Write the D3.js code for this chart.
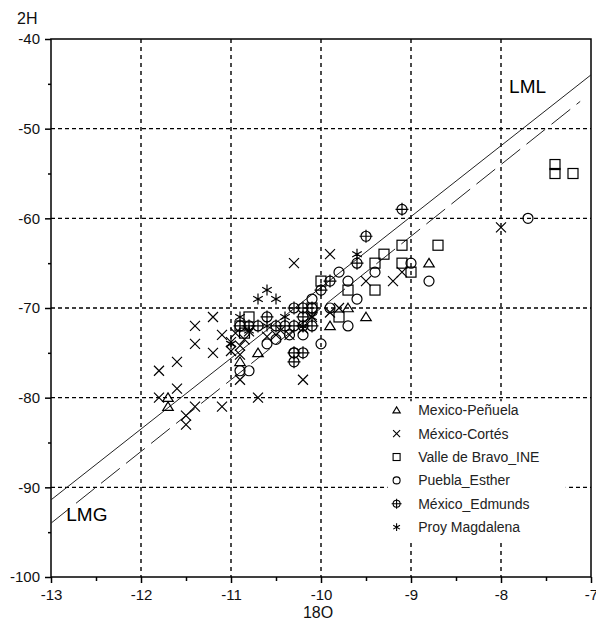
<!DOCTYPE html>
<html>
<head>
<meta charset="utf-8">
<script src="https://cdn.jsdelivr.net/npm/d3@7"></script>
<style>
  body { margin: 0; background: #fff; }
  text { font-family: Arial, "Liberation Sans", sans-serif; }
</style>
</head>
<body>
<script>
// chart size and margins
var svgWidth = 596;
var svgHeight = 623;
var margin = { top: 39, right: 5, bottom: 46, left: 51 };
var width = svgWidth - margin.left - margin.right;
var height = svgHeight - margin.top - margin.bottom;

// axis ticks
var xTicks = [-13, -12, -11, -10, -9, -8, -7];
var yTicks = [-40, -50, -60, -70, -80, -90, -100];
var xMinor = [-12.5, -11.5, -10.5, -9.5, -8.5, -7.5];
var yMinor = [-45, -55, -65, -75, -85, -95];

// series names
var seriesNames = ["Mexico-Peñuela", "México-Cortés", "Valle de Bravo_INE",
  "Puebla_Esther", "México_Edmunds", "Proy Magdalena"];

// data points [18O, 2H]
var penuela = [[-11.7, -80], [-11.7, -81], [-10.9, -76], [-10.7, -75],
  [-9.9, -72], [-9.7, -70], [-9.5, -71], [-8.8, -65]];
var cortes = [[-11.8, -77], [-11.8, -80], [-11.6, -76], [-11.6, -79], [-11.5, -82],
  [-11.5, -83], [-11.4, -72], [-11.4, -74], [-11.4, -81], [-11.2, -71], [-11.2, -75],
  [-11.1, -81], [-11.1, -73], [-11.0, -73.8], [-11.0, -74.8], [-10.95, -72.8],
  [-10.9, -74.2], [-10.9, -75.2], [-10.85, -73.5], [-10.9, -78], [-10.7, -80],
  [-10.8, -72.6], [-10.6, -73.2], [-10.5, -73], [-10.45, -72.5], [-10.35, -73],
  [-10.3, -65], [-10.2, -78], [-10.2, -72.3], [-10.1, -71], [-9.9, -64],
  [-9.9, -70.5], [-9.8, -70], [-9.5, -67], [-9.2, -67], [-9.1, -66], [-8.0, -61]];
var valle = [[-10.9, -72], [-10.85, -72.8], [-10.8, -71], [-10.1, -70], [-10.0, -67],
  [-9.8, -71], [-9.7, -68], [-9.4, -68], [-9.4, -65], [-9.3, -64], [-9.1, -63],
  [-9.1, -65], [-9.0, -66], [-8.7, -63], [-7.4, -54], [-7.4, -55], [-7.2, -55]];
var puebla = [[-10.9, -77], [-10.8, -77], [-10.6, -74], [-10.5, -73.5], [-10.35, -73],
  [-10.3, -75], [-10.2, -73], [-10.1, -69], [-10.0, -74], [-9.9, -70], [-9.8, -66],
  [-9.7, -67], [-9.7, -72], [-9.6, -69], [-9.4, -66], [-9.0, -65], [-8.8, -67], [-7.7, -60]];
var edmunds = [[-10.9, -72], [-10.8, -72], [-10.7, -72], [-10.6, -71], [-10.5, -72],
  [-10.4, -72], [-10.3, -70], [-10.3, -72], [-10.3, -75], [-10.3, -76], [-10.2, -70],
  [-10.2, -71], [-10.2, -72], [-10.2, -75], [-10.1, -70], [-10.1, -72], [-10.0, -68],
  [-9.9, -67], [-9.6, -65], [-9.5, -62], [-9.1, -59]];
var magdalena = [[-11.0, -74], [-10.9, -71], [-10.8, -72.5], [-10.7, -69], [-10.6, -68],
  [-10.5, -69], [-10.6, -72], [-10.4, -71], [-10.2, -72], [-10.1, -71], [-9.6, -64]];

// water lines: slope, intercept and x range
var lmlLine = { slope: 7.9, intercept: 11.3, from: -13, to: -7 };
var lmgLine = { slope: 8, intercept: 10, from: -13, to: -7.12 };

var allSeries = [penuela, cortes, valle, puebla, edmunds, magdalena];
var symbolKinds = ["triangle", "cross", "square", "circle", "circleplus", "asterisk"];

var svg = d3.select("body")
  .append("svg")
  .attr("width", svgWidth)
  .attr("height", svgHeight);

var chartGroup = svg.append("g")
  .attr("transform", `translate(${margin.left}, ${margin.top})`);

var xScale = d3.scaleLinear().domain([-13, -7]).range([0, width]);
var yScale = d3.scaleLinear().domain([-100, -40]).range([height, 0]);

// dashed grid
chartGroup.selectAll(".vgrid")
  .data(xTicks.slice(1, -1))
  .enter().append("line")
  .attr("x1", d => xScale(d)).attr("x2", d => xScale(d))
  .attr("y1", 0).attr("y2", height)
  .attr("stroke", "#000").attr("stroke-width", 1.4)
  .attr("stroke-dasharray", "4,4");

chartGroup.selectAll(".hgrid")
  .data(yTicks.slice(1, -1))
  .enter().append("line")
  .attr("x1", 0).attr("x2", width)
  .attr("y1", d => yScale(d)).attr("y2", d => yScale(d))
  .attr("stroke", "#000").attr("stroke-width", 1.4)
  .attr("stroke-dasharray", "4,3");

// white box behind the legend hides the grid
chartGroup.append("rect")
  .attr("x", xScale(-9.26)).attr("y", yScale(-80.4))
  .attr("width", xScale(-7.28) - xScale(-9.26))
  .attr("height", yScale(-95.9) - yScale(-80.4))
  .attr("fill", "#fff");

// frame
chartGroup.append("rect")
  .attr("width", width).attr("height", height)
  .attr("fill", "none").attr("stroke", "#000").attr("stroke-width", 1.5);

// axes
function styleAxis(g) {
  g.select(".domain").remove();
  g.selectAll("line").attr("stroke", "#000").attr("stroke-width", 1.5);
  g.selectAll("text").attr("font-size", "15px").attr("fill", "#111")
    .attr("font-family", "Arial, 'Liberation Sans', sans-serif");
}

chartGroup.append("g")
  .call(d3.axisLeft(yScale).tickValues(yTicks).tickSize(6).tickPadding(5)
    .tickFormat(d => String(d)))
  .call(styleAxis);
chartGroup.append("g")
  .call(d3.axisLeft(yScale).tickValues(yMinor).tickSize(3).tickFormat(""))
  .call(styleAxis);
chartGroup.append("g")
  .attr("transform", `translate(0, ${height})`)
  .call(d3.axisBottom(xScale).tickValues(xTicks).tickSize(6).tickPadding(6)
    .tickFormat(d => String(d)))
  .call(styleAxis);
chartGroup.append("g")
  .attr("transform", `translate(0, ${height})`)
  .call(d3.axisBottom(xScale).tickValues(xMinor).tickSize(4).tickFormat(""))
  .call(styleAxis);

// LML (solid) and LMG (dashed) lines
function lineEnds(l) {
  return [[l.from, l.slope * l.from + l.intercept], [l.to, l.slope * l.to + l.intercept]];
}
var lineGen = d3.line().x(d => xScale(d[0])).y(d => yScale(d[1]));
chartGroup.append("path")
  .attr("d", lineGen(lineEnds(lmlLine)))
  .attr("fill", "none").attr("stroke", "#222").attr("stroke-width", 1);
chartGroup.append("path")
  .attr("d", lineGen(lineEnds(lmgLine)))
  .attr("fill", "none").attr("stroke", "#222").attr("stroke-width", 1)
  .attr("stroke-dasharray", "24,8");

chartGroup.append("text")
  .attr("x", xScale(-7.91)).attr("y", yScale(-46))
  .attr("font-size", "19px").attr("fill", "#000")
  .text("LML");
chartGroup.append("text")
  .attr("x", xScale(-12.83)).attr("y", yScale(-93.7))
  .attr("font-size", "19px").attr("fill", "#000")
  .text("LMG");

// marker shapes
function drawSymbol(g, kind, s) {
  var r = s / 2;
  if (kind === "triangle") {
    g.append("path").attr("d", `M0,${-r * 0.95}L${r * 1.05},${r * 0.75}L${-r * 1.05},${r * 0.75}Z`);
  } else if (kind === "cross") {
    g.append("path").attr("d", `M${-r},${-r}L${r},${r}M${-r},${r}L${r},${-r}`);
  } else if (kind === "square") {
    g.append("rect").attr("x", -r).attr("y", -r).attr("width", s).attr("height", s);
  } else if (kind === "circle") {
    g.append("circle").attr("r", r);
  } else if (kind === "circleplus") {
    g.append("circle").attr("r", r);
    g.append("path").attr("d", `M${-r - 1.5},0H${r + 1.5}M0,${-r - 1.5}V${r + 1.5}`);
  } else if (kind === "asterisk") {
    var a = r * 1.1, c = a * 0.87, h = a * 0.5;
    g.append("path").attr("d", `M0,${-a}V${a}M${-c},${-h}L${c},${h}M${-c},${h}L${c},${-h}`);
  }
}

allSeries.forEach(function(data, i) {
  var group = chartGroup.append("g")
    .attr("fill", "none").attr("stroke", "#000").attr("stroke-width", 1.2);
  group.selectAll("g")
    .data(data)
    .enter().append("g")
    .attr("transform", d => `translate(${xScale(d[0])}, ${yScale(d[1])})`)
    .each(function() { drawSymbol(d3.select(this), symbolKinds[i], 10); });
});

// legend
var legend = chartGroup.append("g");
seriesNames.forEach(function(name, i) {
  var yPos = yScale(-81.4) + i * 23.4;
  var sym = legend.append("g")
    .attr("transform", `translate(${xScale(-9.16)}, ${yPos})`)
    .attr("fill", "none").attr("stroke", "#000").attr("stroke-width", 1.1);
  drawSymbol(sym, symbolKinds[i], 7);
  legend.append("text")
    .attr("x", xScale(-8.92)).attr("y", yPos)
    .attr("dy", "0.36em")
    .attr("font-size", "14px").attr("fill", "#222")
    .text(name);
});

// axis titles
svg.append("text")
  .attr("x", 17).attr("y", 24)
  .attr("font-size", "16px").attr("fill", "#111")
  .text("2H");
svg.append("text")
  .attr("x", 318).attr("y", 618)
  .attr("text-anchor", "middle")
  .attr("font-size", "16px").attr("fill", "#111")
  .text("18O");
</script>
</body>
</html>
